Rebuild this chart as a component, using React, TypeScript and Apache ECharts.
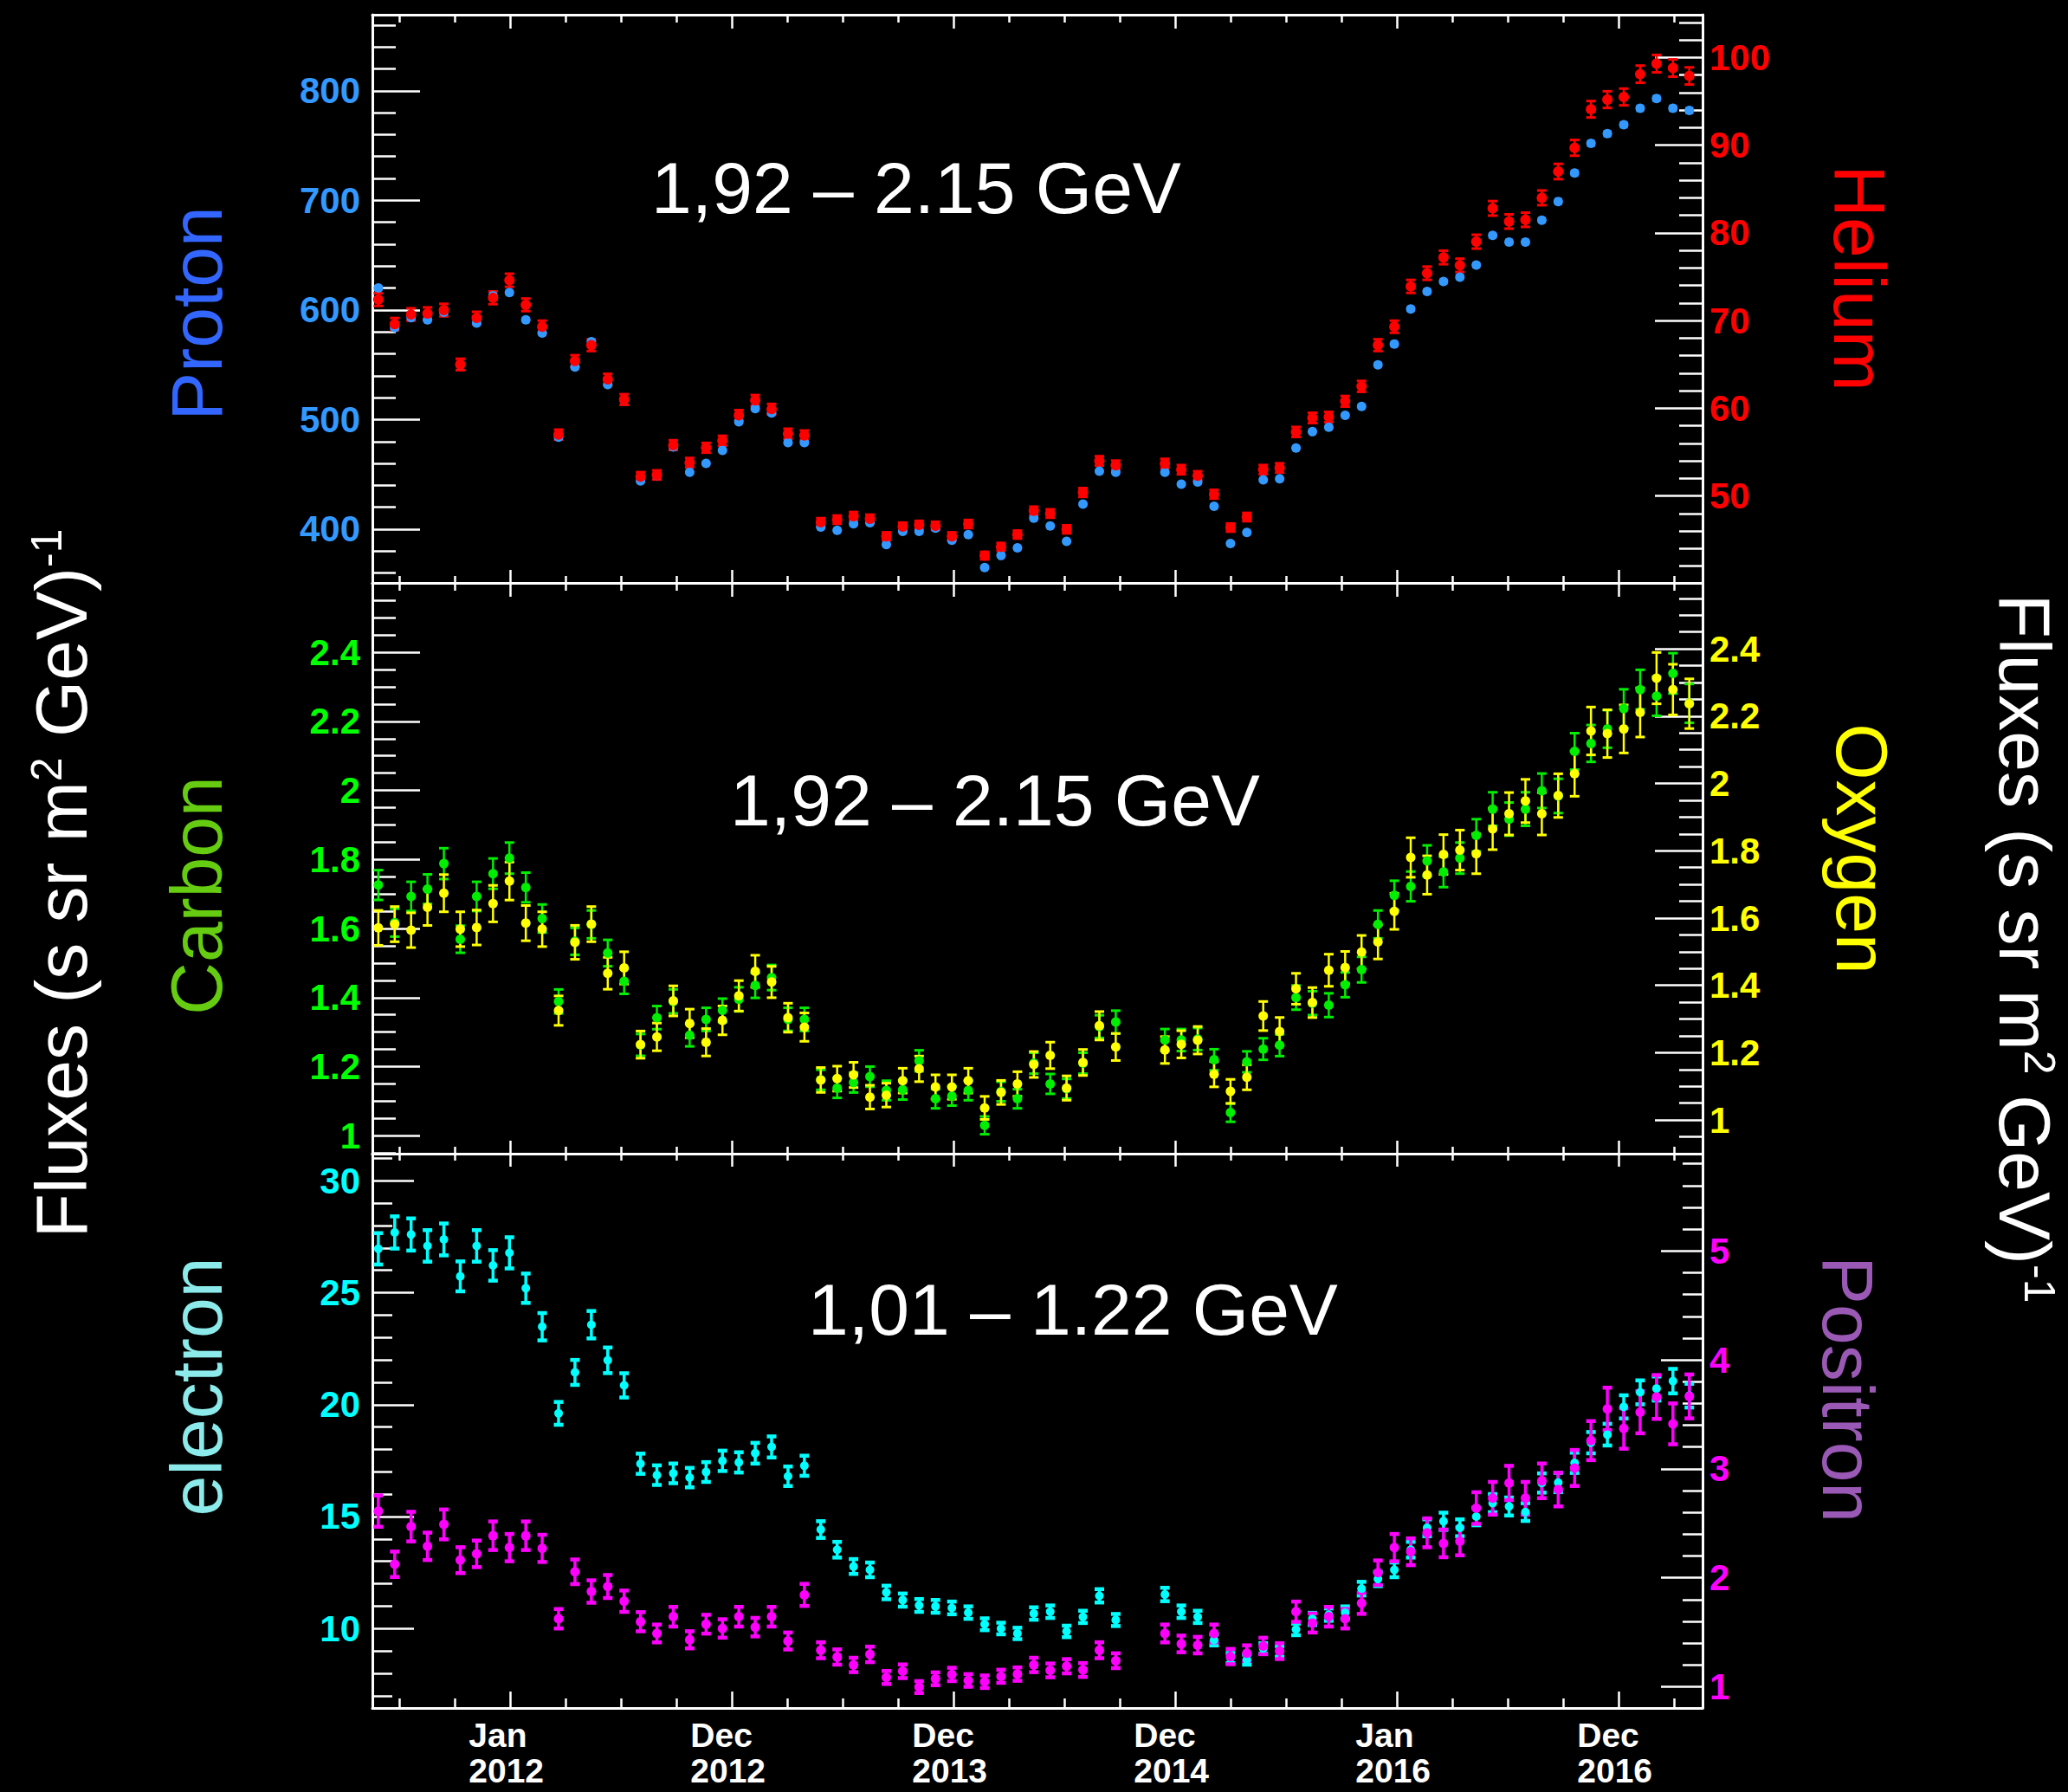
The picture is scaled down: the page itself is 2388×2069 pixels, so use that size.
import React, { useEffect, useRef } from "react";
import * as echarts from "echarts";

// ---- Data: one point per Bartels rotation (27 days); 2472 and 2473 are absent ----
const bartelsRotations = [
  2426, 2427, 2428, 2429, 2430, 2431, 2432, 2433, 2434, 2435,
  2436, 2437, 2438, 2439, 2440, 2441, 2442, 2443, 2444, 2445,
  2446, 2447, 2448, 2449, 2450, 2451, 2452, 2453, 2454, 2455,
  2456, 2457, 2458, 2459, 2460, 2461, 2462, 2463, 2464, 2465,
  2466, 2467, 2468, 2469, 2470, 2471,
  2474, 2475, 2476, 2477, 2478, 2479, 2480, 2481, 2482, 2483,
  2484, 2485, 2486, 2487, 2488, 2489, 2490, 2491, 2492, 2493,
  2494, 2495, 2496, 2497, 2498, 2499, 2500, 2501, 2502, 2503,
  2504, 2505, 2506,
];

const protonFlux = [
  620, 584, 593, 591, 598, 550, 588, 613, 616, 591,
  579, 484, 548, 571, 532, 518, 444, 449, 475, 452,
  460, 472, 498, 510, 506, 479, 479, 402, 399, 405,
  406, 386, 398, 398, 401, 390, 395, 365, 376, 383,
  410, 403, 389, 423, 453, 452,
  452, 441, 443, 421, 387, 397, 445, 446, 474, 489,
  493, 504, 512, 550, 569, 601, 617, 626, 630, 641,
  668, 662, 662, 682, 699, 725, 752, 761, 769, 784,
  793, 784, 782,
];

const heliumFlux = [
  72.4, 69.6, 70.7, 70.8, 71.2, 65.0, 70.3, 72.6, 74.6, 71.8,
  69.3, 57.0, 65.4, 67.2, 63.3, 61.0, 52.2, 52.4, 55.8, 53.8,
  55.5, 56.3, 59.2, 60.9, 59.9, 57.1, 56.9, 47.0, 47.3, 47.7,
  47.4, 45.4, 46.5, 46.7, 46.6, 45.4, 46.8, 43.2, 44.2, 45.6,
  48.3, 48.0, 46.2, 50.4, 54.0, 53.5,
  53.7, 53.0, 52.3, 50.2, 46.4, 47.6, 53.0, 53.2, 57.3, 58.9,
  59.0, 60.8, 62.5, 67.2, 69.3, 73.9, 75.4, 77.2, 76.3, 79.0,
  82.8, 81.3, 81.5, 84.0, 87.0, 89.7, 94.1, 95.2, 95.5, 98.1,
  99.3, 98.8, 97.9,
];

const carbonFlux = [
  1.726, 1.617, 1.693, 1.714, 1.788, 1.569, 1.693, 1.759, 1.804, 1.719,
  1.629, 1.389, 1.563, 1.612, 1.529, 1.447, 1.263, 1.342, 1.389, 1.291,
  1.337, 1.363, 1.395, 1.435, 1.458, 1.337, 1.337, 1.162, 1.138, 1.154,
  1.171, 1.131, 1.133, 1.217, 1.107, 1.115, 1.131, 1.03, 1.128, 1.107,
  1.21, 1.15, 1.136, 1.21, 1.316, 1.329,
  1.277, 1.277, 1.28, 1.22, 1.067, 1.214, 1.251, 1.262, 1.4, 1.384,
  1.378, 1.437, 1.481, 1.612, 1.696, 1.722, 1.796, 1.764, 1.804, 1.87,
  1.946, 1.917, 1.946, 1.999, 1.984, 2.113, 2.136, 2.178, 2.237, 2.292,
  2.273, 2.339, 2.252,
];

const oxygenFlux = [
  1.571, 1.582, 1.564, 1.632, 1.674, 1.567, 1.572, 1.643, 1.71, 1.585,
  1.567, 1.325, 1.528, 1.582, 1.436, 1.452, 1.224, 1.247, 1.354, 1.287,
  1.231, 1.296, 1.369, 1.442, 1.41, 1.304, 1.276, 1.119, 1.123, 1.134,
  1.068, 1.074, 1.117, 1.152, 1.098, 1.098, 1.117, 1.036, 1.082, 1.107,
  1.165, 1.192, 1.095, 1.171, 1.28, 1.217,
  1.208, 1.225, 1.237, 1.136, 1.085, 1.127, 1.309, 1.263, 1.39, 1.349,
  1.445, 1.453, 1.499, 1.529, 1.62, 1.78, 1.728, 1.789, 1.802, 1.791,
  1.865, 1.91, 1.948, 1.91, 1.964, 2.029, 2.156, 2.148, 2.162, 2.211,
  2.313, 2.279, 2.237,
];

const electronFlux = [
  26.96, 27.69, 27.6, 27.09, 27.38, 25.73, 27.09, 26.22, 26.78, 25.2,
  23.48, 19.61, 21.44, 23.57, 21.98, 20.86, 17.36, 16.85, 16.93, 16.74,
  16.99, 17.49, 17.42, 17.83, 18.11, 16.8, 17.27, 14.42, 13.52, 12.77,
  12.62, 11.61, 11.27, 11.03, 10.99, 10.92, 10.71, 10.19, 10.0, 9.78,
  10.67, 10.75, 9.87, 10.52, 11.46, 10.38,
  11.52, 10.75, 10.52, 9.49, 8.68, 8.61, 9.11, 8.98, 9.96, 10.43,
  10.62, 10.71, 11.78, 12.21, 12.62, 13.52, 14.5, 14.79, 14.5, 15.0,
  15.6, 15.45, 15.2, 16.5, 16.52, 17.4, 18.3, 18.66, 19.9, 20.55,
  20.72, 21.05, 20.4,
];

const positronFlux = [
  2.612, 2.124, 2.47, 2.289, 2.49, 2.162, 2.22, 2.386, 2.277, 2.386,
  2.27, 1.624, 2.055, 1.874, 1.92, 1.785, 1.597, 1.489, 1.643, 1.431,
  1.574, 1.535, 1.643, 1.547, 1.643, 1.42, 1.843, 1.335, 1.273, 1.2,
  1.297, 1.085, 1.142, 0.997, 1.073, 1.113, 1.058, 1.046, 1.096, 1.116,
  1.2, 1.15, 1.188, 1.154, 1.335, 1.239,
  1.489, 1.393, 1.382, 1.489, 1.277, 1.308, 1.374, 1.327, 1.689, 1.585,
  1.643, 1.624, 1.766, 2.047, 2.277, 2.239, 2.413, 2.316, 2.335, 2.64,
  2.73, 2.87, 2.73, 2.89, 2.81, 3.008, 3.259, 3.55, 3.37, 3.52,
  3.66, 3.413, 3.665,
];

// Typical relative uncertainty of each species
const protonRelErr = 0.003;
const heliumRelErr = 0.01;
const carbonRelErr = 0.025;
const oxygenRelErr = 0.033;
const electronRelErr = 0.026;
const positronRelErr = 0.055;

// ---- Tick values and labels ----
// x is measured in days from 1 Jan 2012; major ticks one mean year apart
const xMajorTicks = [0, 365.25, 730.5, 1095.75, 1461, 1826.25];
const xMonthLabels = ["Jan", "Dec", "Dec", "Dec", "Jan", "Dec"];
const xYearLabels = ["2012", "2012", "2013", "2014", "2016", "2016"];

const protonTicks = [400, 500, 600, 700, 800];
const heliumTicks = [50, 60, 70, 80, 90, 100];
const carbonTicks = [1, 1.2, 1.4, 1.6, 1.8, 2, 2.2, 2.4];
const oxygenTicks = [1, 1.2, 1.4, 1.6, 1.8, 2, 2.2, 2.4];
const electronTicks = [10, 15, 20, 25, 30];
const positronTicks = [1, 2, 3, 4, 5];

// ---- Layout ----
const WIDTH = 2388;
const HEIGHT = 2069;
const FONT = "'Liberation Sans', Arial, Helvetica, sans-serif";
const GRID_LEFT = 430;
const GRID_RIGHT = WIDTH - 1966;
const X_MIN = -227.3;
const X_MAX = 1964.3;

const DAY_MS = 86400000;
// Bartels rotation 1 began on 8 Feb 1832; each rotation lasts 27 days
function rotationMidDay(n: number): number {
  const epoch = Date.UTC(1832, 1, 8);
  const ref = Date.UTC(2012, 0, 1);
  return (epoch + ((n - 1) * 27 + 13.5) * DAY_MS - ref) / DAY_MS;
}
const rotationDays = bartelsRotations.map(rotationMidDay);

const xQuarter = 365.25 / 4;
const xMinorTicks: number[] = [];
for (let j = -3; j <= 22; j++) {
  const v = j * xQuarter;
  if (j % 4 === 0 || v <= X_MIN || v >= X_MAX) continue;
  xMinorTicks.push(v);
}

type AxisSpec = {
  min: number;
  max: number;
  ticks: number[];
  minorStep: number;
  color: string;
};

function minorTicksOf(spec: AxisSpec): number[] {
  const out: number[] = [];
  const start = Math.ceil(spec.min / spec.minorStep - 1e-9);
  const end = Math.floor(spec.max / spec.minorStep + 1e-9);
  for (let i = start; i <= end; i++) {
    const v = +(i * spec.minorStep).toFixed(6);
    if (v <= spec.min || v >= spec.max) continue;
    if (spec.ticks.some((t) => Math.abs(t - v) < spec.minorStep * 1e-3)) continue;
    out.push(v);
  }
  return out;
}

type Species = {
  values: number[];
  relErr: number;
  color: string;
  size: number;
  barWidth: number;
  capWidth: number;
  capHalf: number;
};

type Panel = {
  top: number;
  height: number;
  left: AxisSpec;
  right: AxisSpec;
  yMajorLen: number;
  yMinorLen: number;
  xBottom: [number, number];
  xTop: [number, number];
  leftSpecies: Species;
  rightSpecies: Species;
};

const panels: Panel[] = [
  {
    top: 17,
    height: 656,
    left: { min: 351, max: 869.4, ticks: protonTicks, minorStep: 20, color: "#3399ff" },
    right: { min: 40.09, max: 104.88, ticks: heliumTicks, minorStep: 2, color: "#ff0000" },
    yMajorLen: 55,
    yMinorLen: 27,
    xBottom: [15, 8],
    xTop: [16, 9],
    leftSpecies: { values: protonFlux, relErr: protonRelErr, color: "#3399ff", size: 11, barWidth: 2, capWidth: 2.5, capHalf: 4.5 },
    rightSpecies: { values: heliumFlux, relErr: heliumRelErr, color: "#ff0000", size: 12, barWidth: 2.5, capWidth: 3, capHalf: 5.5 },
  },
  {
    top: 673,
    height: 659,
    left: { min: 0.948, max: 2.601, ticks: carbonTicks, minorStep: 0.05, color: "#00ff00" },
    right: { min: 0.9, max: 2.596, ticks: oxygenTicks, minorStep: 0.05, color: "#ffff00" },
    yMajorLen: 55,
    yMinorLen: 27,
    xBottom: [15, 8],
    xTop: [16, 9],
    leftSpecies: { values: carbonFlux, relErr: carbonRelErr, color: "#00ee00", size: 11, barWidth: 2.5, capWidth: 3, capHalf: 5.5 },
    rightSpecies: { values: oxygenFlux, relErr: oxygenRelErr, color: "#ffff00", size: 11, barWidth: 2.5, capWidth: 3, capHalf: 5.5 },
  },
  {
    top: 1332,
    height: 640,
    left: { min: 6.45, max: 31.21, ticks: electronTicks, minorStep: 1, color: "#00ffff" },
    right: { min: 0.805, max: 5.893, ticks: positronTicks, minorStep: 0.2, color: "#ff00ff" },
    yMajorLen: 48,
    yMinorLen: 23,
    xBottom: [19, 11],
    xTop: [15, 8],
    leftSpecies: { values: electronFlux, relErr: electronRelErr, color: "#00ffff", size: 10, barWidth: 3.5, capWidth: 4.5, capHalf: 5.5 },
    rightSpecies: { values: positronFlux, relErr: positronRelErr, color: "#ff00ff", size: 11, barWidth: 3.5, capWidth: 4.5, capHalf: 5.5 },
  },
];

const WHITE_LINE = { color: "#ffffff", width: 3 };
const TICK_LINE = { color: "#ffffff", width: 2.5 };

function buildOption() {
  const grid: any[] = [];
  const xAxis: any[] = [];
  const yAxis: any[] = [];
  const series: any[] = [];

  panels.forEach((p, pi) => {
    // grid 2*pi carries the frame, major ticks and data; grid 2*pi+1 the minor ticks
    for (let g = 0; g < 2; g++) {
      grid.push({
        left: GRID_LEFT,
        right: GRID_RIGHT,
        top: p.top,
        height: p.height,
        outerBoundsMode: "none",
        containLabel: false,
      });
    }
    const gMajor = 2 * pi;
    const gMinor = 2 * pi + 1;
    const isBottomPanel = pi === panels.length - 1;

    const xBase = {
      type: "value",
      min: X_MIN,
      max: X_MAX,
      splitLine: { show: false },
      minorTick: { show: false },
    };
    xAxis.push({
      ...xBase,
      gridIndex: gMajor,
      position: "bottom",
      axisLine: { show: true, onZero: false, lineStyle: WHITE_LINE },
      axisTick: { show: true, inside: true, length: p.xBottom[0], customValues: xMajorTicks, lineStyle: TICK_LINE },
      axisLabel: isBottomPanel
        ? {
            show: true,
            customValues: xMajorTicks,
            margin: 11,
            align: "center",
            formatter: (v: number) => {
              const i = xMajorTicks.findIndex((t) => Math.abs(t - v) < 1);
              return i < 0 ? "" : `{m|${xMonthLabels[i]}}\n{m|${xYearLabels[i]}}`;
            },
            rich: {
              m: {
                width: 96,
                align: "left",
                fontSize: 39,
                fontWeight: "bold",
                fontFamily: FONT,
                lineHeight: 41,
                color: "#ffffff",
              },
            },
          }
        : { show: false },
    });
    xAxis.push({
      ...xBase,
      gridIndex: gMajor,
      position: "top",
      axisLine: { show: true, onZero: false, lineStyle: WHITE_LINE },
      axisTick: { show: true, inside: true, length: p.xTop[0], customValues: xMajorTicks, lineStyle: TICK_LINE },
      axisLabel: { show: false },
    });
    xAxis.push({
      ...xBase,
      gridIndex: gMinor,
      position: "bottom",
      axisLine: { show: false, onZero: false },
      axisTick: { show: true, inside: true, length: p.xBottom[1], customValues: xMinorTicks, lineStyle: TICK_LINE },
      axisLabel: { show: false },
    });
    xAxis.push({
      ...xBase,
      gridIndex: gMinor,
      position: "top",
      axisLine: { show: false, onZero: false },
      axisTick: { show: true, inside: true, length: p.xTop[1], customValues: xMinorTicks, lineStyle: TICK_LINE },
      axisLabel: { show: false },
    });

    const yMajor = (spec: AxisSpec, side: "left" | "right") => ({
      type: "value",
      gridIndex: gMajor,
      position: side,
      min: spec.min,
      max: spec.max,
      splitLine: { show: false },
      minorTick: { show: false },
      axisLine: { show: true, onZero: false, lineStyle: WHITE_LINE },
      axisTick: { show: true, inside: true, length: p.yMajorLen, customValues: spec.ticks, lineStyle: TICK_LINE },
      axisLabel: {
        show: true,
        customValues: spec.ticks,
        margin: side === "left" ? 14 : 8,
        color: spec.color,
        fontSize: 42,
        fontWeight: "bold",
        fontFamily: FONT,
        formatter: (v: number) => String(Math.round(v * 100) / 100),
      },
    });
    const yMinor = (spec: AxisSpec, side: "left" | "right") => ({
      type: "value",
      gridIndex: gMinor,
      position: side,
      min: spec.min,
      max: spec.max,
      splitLine: { show: false },
      minorTick: { show: false },
      axisLine: { show: false, onZero: false },
      axisTick: { show: true, inside: true, length: p.yMinorLen, customValues: minorTicksOf(spec), lineStyle: TICK_LINE },
      axisLabel: { show: false },
    });
    yAxis.push(yMajor(p.left, "left"));
    yAxis.push(yMajor(p.right, "right"));
    yAxis.push(yMinor(p.left, "left"));
    yAxis.push(yMinor(p.right, "right"));

    const addSpecies = (sp: Species, yAxisIndex: number) => {
      const xAxisIndex = 4 * pi;
      series.push({
        type: "custom",
        xAxisIndex,
        yAxisIndex,
        silent: true,
        clip: false,
        encode: { x: 0, y: [1, 2] },
        data: rotationDays.map((d, i) => [d, sp.values[i] * (1 - sp.relErr), sp.values[i] * (1 + sp.relErr)]),
        renderItem: (params: any, api: any) => {
          const x = api.value(0);
          const lo = api.coord([x, api.value(1)]);
          const hi = api.coord([x, api.value(2)]);
          const h = sp.capHalf;
          return {
            type: "group",
            children: [
              { type: "line", shape: { x1: hi[0], y1: hi[1], x2: lo[0], y2: lo[1] }, style: { stroke: sp.color, lineWidth: sp.barWidth } },
              { type: "line", shape: { x1: hi[0] - h, y1: hi[1], x2: hi[0] + h, y2: hi[1] }, style: { stroke: sp.color, lineWidth: sp.capWidth } },
              { type: "line", shape: { x1: lo[0] - h, y1: lo[1], x2: lo[0] + h, y2: lo[1] }, style: { stroke: sp.color, lineWidth: sp.capWidth } },
            ],
          };
        },
      });
      series.push({
        type: "scatter",
        xAxisIndex,
        yAxisIndex,
        silent: true,
        symbol: "circle",
        symbolSize: sp.size,
        itemStyle: { color: sp.color, opacity: 1, borderWidth: 0 },
        data: rotationDays.map((d, i) => [d, sp.values[i]]),
      });
    };
    addSpecies(p.leftSpecies, 4 * pi);
    addSpecies(p.rightSpecies, 4 * pi + 1);
  });

  const plainText = (text: string, x: number, y: number, fill: string, rotation = 0) => ({
    type: "text",
    x,
    y,
    rotation,
    silent: true,
    style: {
      text,
      fill,
      fontSize: 84,
      fontFamily: FONT,
      align: "center",
      verticalAlign: "middle",
    },
  });

  const fluxRich = {
    a: { fontSize: 84, fontFamily: FONT, fill: "#ffffff", lineHeight: 84 },
    s: { fontSize: 50, fontFamily: FONT, fill: "#ffffff", lineHeight: 60, verticalAlign: "top" },
  };
  const fluxText = "{a|Fluxes (s sr m}{s|2}{a| GeV)}{s|-1}";
  const fluxLabel = (x: number, y: number, rotation: number) => ({
    type: "text",
    x,
    y,
    rotation,
    silent: true,
    style: { text: fluxText, rich: fluxRich, align: "center", verticalAlign: "middle" },
  });

  const graphic = [
    plainText("1,92 – 2.15 GeV", 1058, 217, "#ffffff"),
    plainText("1,92 – 2.15 GeV", 1149, 924, "#ffffff"),
    plainText("1,01 – 1.22 GeV", 1239, 1512, "#ffffff"),
    plainText("Proton", 227, 362, "#3366ff", Math.PI / 2),
    plainText("Carbon", 227, 1034, "#66cc11", Math.PI / 2),
    plainText("electron", 227, 1601, "#8ceaea", Math.PI / 2),
    plainText("Helium", 2147, 321, "#ff0000", -Math.PI / 2),
    plainText("Oxygen", 2150, 980, "#ffff00", -Math.PI / 2),
    plainText("Positron", 2134, 1604, "#9b59b6", -Math.PI / 2),
    fluxLabel(71, 1020, Math.PI / 2),
    fluxLabel(2338, 1095, -Math.PI / 2),
  ];

  return {
    backgroundColor: "#000000",
    animation: false,
    grid,
    xAxis,
    yAxis,
    series,
    graphic: { elements: graphic },
  };
}

export default function App() {
  const ref = useRef<HTMLDivElement>(null);

  useEffect(() => {
    document.body.style.margin = "0";
    document.body.style.background = "#000000";
    document.body.style.overflow = "hidden";
    if (!ref.current) return;
    const chart = echarts.init(ref.current, undefined, { renderer: "svg" });
    chart.setOption(buildOption() as any);
    return () => {
      chart.dispose();
    };
  }, []);

  return <div ref={ref} style={{ width: WIDTH, height: HEIGHT, background: "#000000" }} />;
}
